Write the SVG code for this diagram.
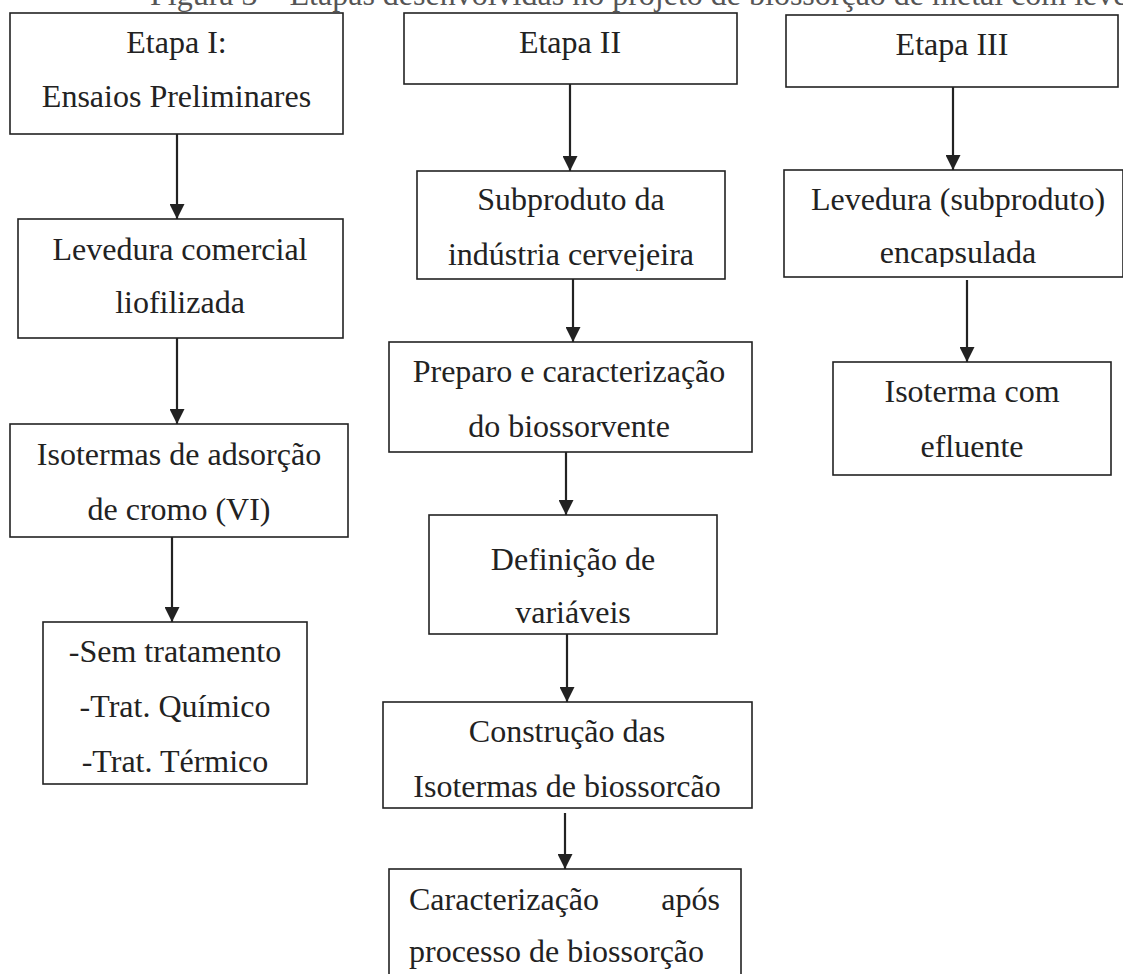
<svg xmlns="http://www.w3.org/2000/svg" width="1123" height="974" viewBox="0 0 1123 974">
<style>
.box{fill:#fff;stroke:#222;stroke-width:1.6}
.t{font-family:"Liberation Serif","Times New Roman",serif;font-size:32px;fill:#222;text-anchor:middle}
.s{text-anchor:start}
.e{text-anchor:end}
.cap{font-family:"Liberation Serif","Times New Roman",serif;font-size:32px;fill:#555}
.arr{stroke:#222;stroke-width:2.2;fill:none;marker-end:url(#ah)}
</style>
<defs>
<marker id="ah" markerUnits="userSpaceOnUse" markerWidth="16" markerHeight="15" refX="15" refY="7.5" orient="auto">
<path d="M0,0 L15,7.5 L0,15 Z" fill="#222"/>
</marker>
<clipPath id="c1"><rect x="417" y="171" width="308" height="100"/></clipPath>
<clipPath id="c2"><rect x="784" y="170" width="339" height="97"/></clipPath>
</defs>
<rect width="1123" height="974" fill="#fff"/>
<text class="cap" x="150" y="5">Figura 3 – Etapas desenvolvidas no projeto de biossorção de metal com levedura</text>

<g id="n1"><rect class="box" x="10" y="13" width="333" height="121"/><text class="t" x="176.5" y="53">Etapa I:</text><text class="t" x="176.5" y="107">Ensaios Preliminares</text></g>
<g id="n2"><rect class="box" x="18" y="219" width="325" height="119"/><text class="t" x="180" y="260">Levedura comercial</text><text class="t" x="180" y="313">liofilizada</text></g>
<g id="n3"><rect class="box" x="10" y="424" width="338" height="113"/><text class="t" x="179" y="465">Isotermas de adsorção</text><text class="t" x="179" y="520">de cromo (VI)</text></g>
<g id="n4"><rect class="box" x="43" y="622" width="264" height="162"/><text class="t" x="175" y="662">-Sem tratamento</text><text class="t" x="175" y="717">-Trat. Químico</text><text class="t" x="175" y="772">-Trat. Térmico</text></g>

<g id="n5"><rect class="box" x="404" y="13" width="333" height="71"/><text class="t" x="570" y="53">Etapa II</text></g>
<g id="n6"><rect class="box" x="417" y="171" width="308" height="108"/><g clip-path="url(#c1)"><text class="t" x="571" y="210">Subproduto da</text><text class="t" x="571" y="265">indústria cervejeira</text></g></g>
<g id="n7"><rect class="box" x="389" y="342" width="363" height="110"/><text class="t" x="569" y="382">Preparo e caracterização</text><text class="t" x="569" y="437">do biossorvente</text></g>
<g id="n8"><rect class="box" x="429" y="515" width="288" height="119"/><text class="t" x="573" y="570">Definição de</text><text class="t" x="573" y="623">variáveis</text></g>
<g id="n9"><rect class="box" x="383" y="702" width="369" height="106"/><text class="t" x="567" y="742">Construção das</text><text class="t" x="567" y="797">Isotermas de biossorcão</text></g>
<g id="n10"><rect class="box" x="389" y="869" width="352" height="120"/><text class="t s" x="409" y="910">Caracterização</text><text class="t e" x="720" y="910">após</text><text class="t s" x="409" y="962">processo de biossorção</text></g>

<g id="n11"><rect class="box" x="786" y="15" width="332" height="72"/><text class="t" x="952" y="55">Etapa III</text></g>
<g id="n12"><rect class="box" x="784" y="170" width="339" height="107"/><g clip-path="url(#c2)"><text class="t" x="958" y="210">Levedura (subproduto)</text><text class="t" x="958" y="263">encapsulada</text></g></g>
<g id="n13"><rect class="box" x="833" y="362" width="278" height="113"/><text class="t" x="972" y="402">Isoterma com</text><text class="t" x="972" y="457">efluente</text></g>

<g id="connectors">
<line class="arr" x1="177" y1="134" x2="177" y2="219"/>
<line class="arr" x1="177" y1="338" x2="177" y2="424"/>
<line class="arr" x1="172" y1="537" x2="172" y2="622"/>
<line class="arr" x1="570" y1="84" x2="570" y2="171"/>
<line class="arr" x1="573" y1="279" x2="573" y2="342"/>
<line class="arr" x1="566" y1="452" x2="566" y2="515"/>
<line class="arr" x1="567" y1="634" x2="567" y2="702"/>
<line class="arr" x1="565" y1="813" x2="565" y2="869"/>
<line class="arr" x1="953" y1="87" x2="953" y2="170"/>
<line class="arr" x1="967" y1="280" x2="967" y2="362"/>
</g>
</svg>
